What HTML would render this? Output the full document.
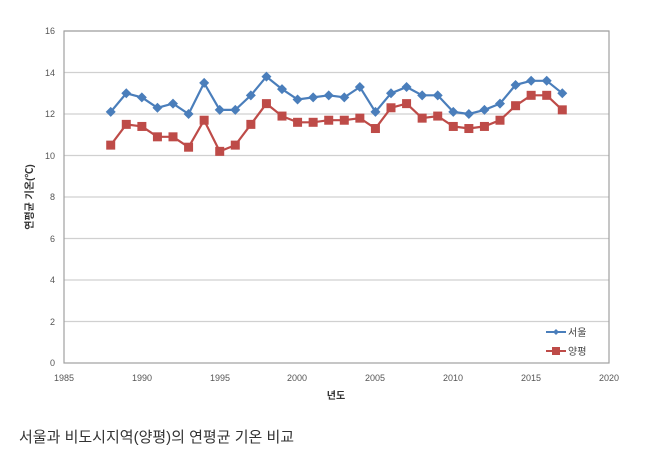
<!DOCTYPE html>
<html><head><meta charset="utf-8"><style>
body{margin:0;background:#fff;width:651px;height:461px;overflow:hidden;font-family:"Liberation Sans","Noto Sans CJK KR",sans-serif}
.cap{position:absolute;left:19px;top:426px;font-size:15px;color:#333}
</style></head><body>
<svg id="s" width="651" height="461" style="position:absolute;left:0;top:0" font-family="Liberation Sans, Noto Sans CJK KR, sans-serif">
<g stroke="#d0d0d0" stroke-width="1.2">
<line x1="64" x2="609" y1="31" y2="31"/><line x1="64" x2="609" y1="72.5" y2="72.5"/>
<line x1="64" x2="609" y1="114" y2="114"/><line x1="64" x2="609" y1="155.5" y2="155.5"/>
<line x1="64" x2="609" y1="197" y2="197"/><line x1="64" x2="609" y1="238.5" y2="238.5"/>
<line x1="64" x2="609" y1="280" y2="280"/><line x1="64" x2="609" y1="321.5" y2="321.5"/>
</g>
<rect x="64" y="31" width="545" height="332" fill="none" stroke="#a0a0a0" stroke-width="1.2"/>
<g font-size="9" fill="#555" text-anchor="end">
<text x="55" y="34">16</text><text x="55" y="76">14</text><text x="55" y="117">12</text><text x="55" y="159">10</text>
<text x="55" y="200">8</text><text x="55" y="242">6</text><text x="55" y="283">4</text><text x="55" y="325">2</text><text x="55" y="366">0</text>
</g>
<g font-size="9" fill="#555" text-anchor="middle">
<text x="64" y="381">1985</text><text x="142" y="381">1990</text><text x="220" y="381">1995</text><text x="297" y="381">2000</text>
<text x="375" y="381">2005</text><text x="453" y="381">2010</text><text x="531" y="381">2015</text><text x="609" y="381">2020</text>
</g>
<text x="336" y="399" font-size="10" font-weight="bold" fill="#333" text-anchor="middle">년도</text>
<text transform="translate(33,197) rotate(-90)" font-size="10" font-weight="bold" fill="#333" text-anchor="middle">연평균 기온(℃)</text>
<g id="series"></g>
<g font-size="10" fill="#444">
<line x1="546" x2="566" y1="332" y2="332" stroke="#4a7ebb" stroke-width="2"/><path d="M556 329l3 3-3 3-3-3z" fill="#4a7ebb"/>
<text x="568" y="336">서울</text>
<line x1="546" x2="566" y1="351" y2="351" stroke="#be4b48" stroke-width="2"/><rect x="552" y="347" width="8" height="8" fill="#be4b48"/>
<text x="568" y="355">양평</text>
</g>
</svg>
<div class="cap">서울과 비도시지역(양평)의 연평균 기온 비교</div>
<script>
var a=[12.1,13.0,12.8,12.3,12.5,12.0,13.5,12.2,12.2,12.9,13.8,13.2,12.7,12.8,12.9,12.8,13.3,12.1,13.0,13.3,12.9,12.9,12.1,12.0,12.2,12.5,13.4,13.6,13.6,13.0];
var b=[10.5,11.5,11.4,10.9,10.9,10.4,11.7,10.2,10.5,11.5,12.5,11.9,11.6,11.6,11.7,11.7,11.8,11.3,12.3,12.5,11.8,11.9,11.4,11.3,11.4,11.7,12.4,12.9,12.9,12.2];
function X(i){return 64+(1988+i-1985)*545/35}function Y(v){return 363-v*20.75}
var g=document.getElementById('series'),h='';
function line(d,c){return '<polyline fill="none" stroke="'+c+'" stroke-width="2.2" points="'+d.map(function(v,i){return X(i).toFixed(1)+','+Y(v).toFixed(1)}).join(' ')+'"/>';}
h+=line(b,'#be4b48')+line(a,'#4a7ebb');
b.forEach(function(v,i){h+='<rect x="'+(X(i)-4.5)+'" y="'+(Y(v)-4.5)+'" width="9" height="9" fill="#be4b48"/>';});
a.forEach(function(v,i){var x=X(i),y=Y(v);h+='<path d="M'+x+' '+(y-5)+'l5 5-5 5-5-5z" fill="#4a7ebb"/>';});
g.innerHTML=h;
</script>
</body></html>
